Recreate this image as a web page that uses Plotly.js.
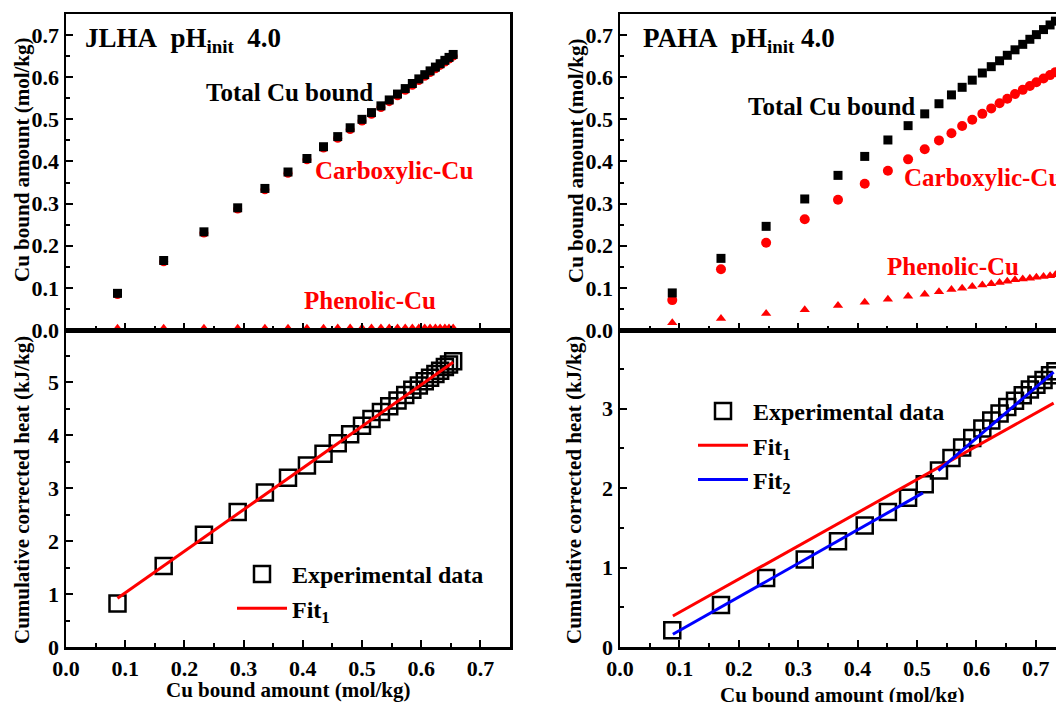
<!DOCTYPE html>
<html><head><meta charset="utf-8">
<script src="https://cdn.plot.ly/plotly-3.0.1.min.js"></script>
<style>html,body{margin:0;padding:0;overflow:hidden;background:#fff}#chart{width:1056px;height:702px}</style>
</head><body><div id="chart"></div>
<script>
// ---- JLHA (left) ----
const xL = [0.087,0.165,0.233,0.290,0.336,0.375,0.407,0.435,0.459,0.480,0.500,0.516,0.532,0.546,0.560,0.573,0.585,0.596,0.606,0.615,0.624,0.632,0.640,0.647,0.654];
const totalL = [0.087,0.165,0.233,0.290,0.336,0.375,0.407,0.435,0.459,0.480,0.500,0.516,0.532,0.546,0.560,0.573,0.585,0.596,0.606,0.615,0.624,0.632,0.640,0.647,0.654];
const carbL = [0.084,0.162,0.230,0.287,0.333,0.372,0.404,0.432,0.455,0.476,0.496,0.512,0.528,0.542,0.556,0.569,0.581,0.592,0.602,0.611,0.620,0.628,0.636,0.643,0.650];
const phenL = [0.004,0.004,0.004,0.004,0.004,0.004,0.004,0.004,0.005,0.005,0.005,0.005,0.005,0.005,0.005,0.005,0.005,0.005,0.005,0.005,0.005,0.005,0.005,0.005,0.005];
const heatL = [0.82,1.53,2.12,2.55,2.92,3.20,3.43,3.65,3.85,4.02,4.18,4.31,4.44,4.55,4.66,4.76,4.86,4.94,5.02,5.09,5.16,5.22,5.29,5.34,5.40];
const fit1Lx = [0.087,0.654];
const fit1Ly = [0.92,5.38];
// ---- PAHA (right) ----
const xR = [0.088,0.170,0.246,0.311,0.367,0.412,0.451,0.485,0.513,0.537,0.558,0.576,0.593,0.610,0.625,0.639,0.652,0.665,0.678,0.690,0.701,0.713,0.724,0.733,0.742];
const totalR = [0.088,0.170,0.246,0.311,0.367,0.412,0.451,0.485,0.513,0.537,0.558,0.576,0.593,0.610,0.625,0.639,0.652,0.665,0.678,0.690,0.701,0.713,0.724,0.733,0.742];
const carbR = [0.071,0.144,0.207,0.263,0.309,0.347,0.378,0.405,0.429,0.450,0.467,0.484,0.499,0.513,0.526,0.538,0.549,0.560,0.570,0.579,0.588,0.597,0.605,0.612,0.620];
const phenR = [0.017,0.027,0.039,0.048,0.058,0.066,0.073,0.080,0.085,0.091,0.096,0.099,0.103,0.107,0.110,0.113,0.116,0.119,0.121,0.123,0.125,0.127,0.129,0.131,0.133];
const heatR = [0.21,0.53,0.87,1.10,1.33,1.53,1.70,1.88,2.05,2.22,2.38,2.51,2.63,2.75,2.85,2.94,3.02,3.10,3.17,3.24,3.30,3.36,3.42,3.47,3.52];
const fit1Rx = [0.089,0.730];
const fit1Ry = [0.39,3.07];
const fit2Rx = [0.089,0.510,null,0.536,0.730];
const fit2Ry = [0.16,1.94,null,2.22,3.46];
// ---- texts ----
const xTitle = 'Cu bound amount (mol/kg)';
const yTitleTop = 'Cu bound amount (mol/kg)';
const yTitleBottom = 'Cumulative corrected heat (kJ/kg)';

const W=1056,H=702;
const px=v=>v/W, py=v=>1-v/H;
const FONT='"Liberation Serif", "Times New Roman", Times, serif';
const f=(s,c)=>({family:FONT,size:s,color:c||'black',weight:'bold'});

const traces = [
 {x:xL,y:carbL,xaxis:'x',yaxis:'y',mode:'markers',type:'scatter',marker:{symbol:'circle',size:9,color:'#ff0000'},showlegend:false,cliponaxis:false},
 {x:xL,y:phenL,xaxis:'x',yaxis:'y',mode:'markers',type:'scatter',marker:{symbol:'triangle-up',size:9,color:'#ff0000'},showlegend:false,cliponaxis:false},
 {x:xL,y:totalL,xaxis:'x',yaxis:'y',mode:'markers',type:'scatter',marker:{symbol:'square',size:9,color:'black'},showlegend:false,cliponaxis:false},
 {x:xL,y:heatL,xaxis:'x2',yaxis:'y2',mode:'markers',type:'scatter',name:'Experimental data',legend:'legend',marker:{symbol:'square-open',size:16,color:'black',line:{width:2.5,color:'black'}},cliponaxis:false},
 {x:fit1Lx,y:fit1Ly,xaxis:'x2',yaxis:'y2',mode:'lines',type:'scatter',name:'Fit<sub>1</sub>',legend:'legend',line:{color:'#ff0000',width:3}},
 {x:xR,y:carbR,xaxis:'x3',yaxis:'y3',mode:'markers',type:'scatter',marker:{symbol:'circle',size:10,color:'#ff0000'},showlegend:false,cliponaxis:false},
 {x:xR,y:phenR,xaxis:'x3',yaxis:'y3',mode:'markers',type:'scatter',marker:{symbol:'triangle-up',size:9,color:'#ff0000'},showlegend:false,cliponaxis:false},
 {x:xR,y:totalR,xaxis:'x3',yaxis:'y3',mode:'markers',type:'scatter',marker:{symbol:'square',size:9,color:'black'},showlegend:false,cliponaxis:false},
 {x:xR,y:heatR,xaxis:'x4',yaxis:'y4',mode:'markers',type:'scatter',name:'Experimental data',legend:'legend2',marker:{symbol:'square-open',size:16,color:'black',line:{width:2.5,color:'black'}},cliponaxis:false},
 {x:fit1Rx,y:fit1Ry,xaxis:'x4',yaxis:'y4',mode:'lines',type:'scatter',name:'Fit<sub>1</sub>',legend:'legend2',line:{color:'#ff0000',width:3}},
 {x:fit2Rx,y:fit2Ry,xaxis:'x4',yaxis:'y4',mode:'lines',type:'scatter',name:'Fit<sub>2</sub>',legend:'legend2',connectgaps:false,line:{color:'#0000ff',width:3}}
];

const base = {showline:true,linecolor:'black',linewidth:2.5,ticks:'inside',ticklen:7,tickwidth:2,tickcolor:'black',
  showgrid:false,zeroline:false,mirror:true,tickfont:f(22),fixedrange:true};
const dL=[px(66),px(510)], dR=[px(620),1];
const dT=[py(330),py(14)], dB=[py(647),py(330)];
const mn=d=>({dtick:d,ticks:'inside',ticklen:4,tickwidth:2,tickcolor:'black'});
const xt={...base,range:[0,0.75],dtick:0.1,tick0:0,tickformat:'.1f',minor:mn(0.05)};
const ann=(t,x,y,o)=>Object.assign({text:t,xref:'paper',yref:'paper',x:px(x),y:py(y),xanchor:'center',yanchor:'middle',showarrow:false},o);
const layout = {
 width:W,height:H,margin:{l:0,r:0,t:0,b:0},paper_bgcolor:'white',plot_bgcolor:'white',showlegend:true,
 xaxis:{...xt,domain:dL,anchor:'y',showticklabels:false},
 yaxis:{...base,domain:dT,anchor:'x',range:[0,0.75],dtick:0.1,tick0:0,tickformat:'.1f',minor:mn(0.05)},
 xaxis2:{...xt,domain:dL,anchor:'y2'},
 yaxis2:{...base,domain:dB,anchor:'x2',range:[0,5.99],dtick:1,tick0:0,minor:mn(0.5)},
 xaxis3:{...xt,domain:dR,anchor:'y3',range:[0,0.734],showticklabels:false},
 yaxis3:{...base,domain:dT,anchor:'x3',mirror:false,range:[0,0.75],dtick:0.1,tick0:0,tickformat:'.1f',minor:mn(0.05)},
 xaxis4:{...xt,domain:dR,anchor:'y4',range:[0,0.734]},
 yaxis4:{...base,domain:dB,anchor:'x4',mirror:false,range:[0,3.99],dtick:1,tick0:0,minor:mn(0.5)},
 legend:{x:px(232),y:py(552),xanchor:'left',yanchor:'top',bgcolor:'rgba(0,0,0,0)',font:f(24),itemwidth:50,tracegroupgap:0},
 legend2:{x:px(693),y:py(389),xanchor:'left',yanchor:'top',bgcolor:'rgba(0,0,0,0)',font:f(24),itemwidth:50,tracegroupgap:0},
 annotations:[
  ann(yTitleTop,22,160,{textangle:-90,font:f(21)}),
  ann(yTitleBottom,22,490,{textangle:-90,font:f(21)}),
  ann(yTitleTop,576,161,{textangle:-90,font:f(21)}),
  ann(yTitleBottom,574,490,{textangle:-90,font:f(21)}),
  ann(xTitle,288,690,{font:f(21)}),
  ann(xTitle,842,695,{font:f(21)}),
  ann('JLHA\u00a0\u00a0pH<sub>init</sub>\u00a0\u00a04.0',83,40,{xanchor:'left',font:f(27)}),
  ann('Total Cu bound',204,92,{xanchor:'left',font:f(25)}),
  ann('Carboxylic-Cu',313,170,{xanchor:'left',font:f(25,'#ff0000')}),
  ann('Phenolic-Cu',302,300,{xanchor:'left',font:f(25,'#ff0000')}),
  ann('PAHA\u00a0\u00a0pH<sub>init</sub>\u00a04.0',641,40,{xanchor:'left',font:f(27)}),
  ann('Total Cu bound',746,107,{xanchor:'left',font:f(25)}),
  ann('Carboxylic-Cu',902,177,{xanchor:'left',font:f(25,'#ff0000')}),
  ann('Phenolic-Cu',885,266,{xanchor:'left',font:f(25,'#ff0000')})
 ]
};
Plotly.newPlot('chart',traces,layout,{displayModeBar:false,staticPlot:true});
</script></body></html>
